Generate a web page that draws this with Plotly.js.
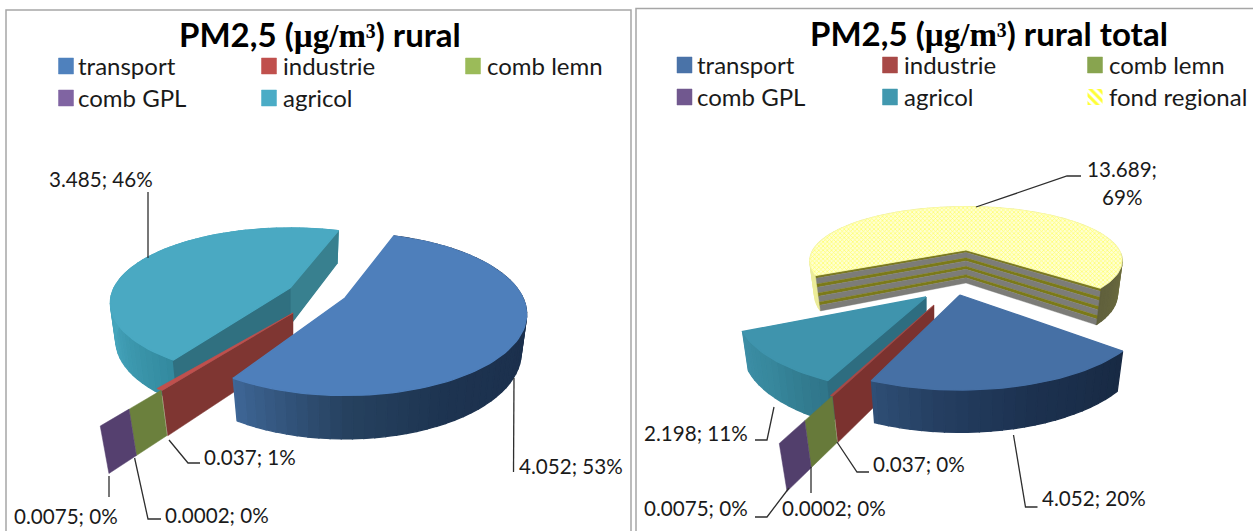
<!DOCTYPE html>
<html>
<head>
<meta charset="utf-8">
<script src="https://cdn.plot.ly/plotly-3.0.1.min.js"></script>
<style>html,body{margin:0;padding:0;background:#fff}#c{width:1253px;height:531px}</style>
</head>
<body>
<div id="c"></div>
<script>
// ---------- data ----------
const categories = ['transport', 'industrie', 'comb lemn', 'comb GPL', 'agricol', 'fond regional'];
const ruralValues = [4.052, 0.037, 0.0002, 0.0075, 3.485];
const ruralPercents = [53, 1, 0, 0, 46];
const totalValues = [4.052, 0.037, 0.0002, 0.0075, 2.198, 13.689];
const totalPercents = [20, 0, 0, 0, 11, 69];
const ruralTitle = 'rural';
const totalTitle = 'rural total';

// ---------- look ----------
const K = 0.2, FONT = 'Lato, sans-serif', TEXT = '#1a1a1a';
const traces = [];
function poly(pts, color, extra) {
  traces.push(Object.assign({
    type: 'scatter', mode: 'lines', x: pts.map(p => p[0]).concat(pts[0][0]), y: pts.map(p => p[1]).concat(pts[0][1]),
    fill: 'toself', fillcolor: color, line: {color: color, width: 1.3}, hoverinfo: 'skip', showlegend: false
  }, extra || {}));
}
function leader(pts) {
  traces.push({type: 'scatter', mode: 'lines', x: pts.map(p => p[0]), y: pts.map(p => p[1]),
    line: {color: '#2e2e2e', width: 1.3}, hoverinfo: 'skip', showlegend: false});
}
function hex(c) { return [1, 3, 5].map(i => parseInt(c.substr(i, 2), 16)); }
function ramp(stops, t) {
  if (t <= stops[0][0]) return stops[0][1];
  for (let i = 1; i < stops.length; i++) if (t <= stops[i][0]) {
    const f = (t - stops[i - 1][0]) / (stops[i][0] - stops[i - 1][0]);
    const a = hex(stops[i - 1][1]), b = hex(stops[i][1]);
    return 'rgb(' + a.map((v, j) => Math.round(v + (b[j] - v) * f)).join(',') + ')';
  }
  return stops[stops.length - 1][1];
}
function point(g, deg, r, h) {
  const a = deg * Math.PI / 180, u = Math.sin(a) * r, v = -Math.cos(a) * r;
  const s = 1 / (1 - K * v + 0.03 * h);
  return [g.ax + g.rx * u * s, g.ay + g.ry * v * s + h * (g.d || 0) * s];
}
function arc(g, a0, a1, h) {
  const n = Math.max(2, Math.ceil((a1 - a0) / 2)), out = [];
  for (let i = 0; i <= n; i++) out.push(point(g, a0 + (a1 - a0) * i / n, 1, h));
  return out;
}
function rim(g, a0, a1) {
  const step = 3;
  for (let a = a0; a < a1; a += step) {
    const b = Math.min(a + step, a1);
    poly([point(g, a, 1, 0), point(g, b, 1, 0), point(g, b, 1, 1), point(g, a, 1, 1)], ramp(g.rim, a));
  }
}
function radialWall(g, deg, color) {
  poly([[g.ax, g.ay], point(g, deg, 1, 0), point(g, deg, 1, 1), [g.ax, g.ay + g.d / 1.03]], color);
}
function wedge(g, a0, a1) {
  rim(g, a0, a1);
  (g.walls || []).forEach(w => radialWall(g, w[0] === 'start' ? a0 : a1, w[1]));
  if (g.stripes) [a1, a0].forEach(deg => stripedWall(g, deg));
  poly([[g.ax, g.ay]].concat(arc(g, a0, a1, 0)), g.top, g.topExtra);
}
function stripedWall(g, deg) {
  const top = point(g, deg, 1, 0), bot = point(g, deg, 1, 1), at = [g.ax, g.ay], ab = [g.ax, g.ay + g.d / 1.03];
  const mix = (p, q, t) => [p[0] + (q[0] - p[0]) * t, p[1] + (q[1] - p[1]) * t];
  let acc = 0;
  const total = g.stripes.reduce((s, b) => s + b[1], 0);
  g.stripes.forEach(b => {
    const t0 = acc / total, t1 = (acc + b[1]) / total; acc += b[1];
    poly([mix(at, ab, t0), mix(top, bot, t0), mix(top, bot, t1), mix(at, ab, t1)], b[0], {line: {color: b[0], width: 0.4}});
  });
}
function thin(g, deg, sweep, span, wall, top) {
  const o = Object.assign({}, g, {ax: 0, ay: 0});
  const p = point(o, deg, 1, 0), q = point(o, deg + sweep, 1, 0);
  const T = r => [g.ax + p[0] * r, g.ay + p[1] * r];
  const B = r => [g.ax + p[0] * r * (1 - g.inward), g.ay + p[1] * r + g.d0 + g.dr * r];
  poly([T(span[0]), T(span[1]), B(span[1]), B(span[0])], wall, {line: {color: wall, width: 0.5}});
  if (top) poly([[g.ax, g.ay], [g.ax + q[0] * span[1], g.ay + q[1] * span[1]], T(span[1])], top, {line: {color: top, width: 0.6}});
}
const sum = a => a.reduce((s, v) => s + v, 0);
function angles(values, start) {
  const tot = sum(values); let a = start;
  return values.map(v => { const from = a; a += v / tot * 360; return [from, a]; });
}
const annotations = [];
function label(x, y, text, anchor) {
  annotations.push({xref: 'x', yref: 'y', x: x, y: y, text: text, showarrow: false, xanchor: anchor || 'left', yanchor: 'middle',
    font: {family: FONT, size: 20.6, color: TEXT}, borderpad: 0});
}

// ---------- left chart ----------
const L = angles(ruralValues, 19);
const rRx = 178, rRy = 78;
wedge({ax: 290, ay: 288, rx: 176, ry: 72, d: 38, top: '#4aa9c2',
  rim: [[213, '#338a9f'], [250, '#45a4bb'], [300, '#46a6bd']],
  walls: [['end', '#38808f'], ['start', '#307080']]}, L[4][0], L[4][1]);
const leftThin = {ax: 293, ay: 313, rx: 182, ry: rRy, inward: 0.045, d0: 40, dr: 5};
thin(leftThin, L[1][0] + 4.5, L[1][1] - L[1][0], [0, 1.03], '#7f3632', '#c0504d');
thin(leftThin, L[2][0] + 3, 0, [1.03, 1.28], '#6b803d');
thin(leftThin, L[3][0] + 3, 0, [1.28, 1.505], '#55406f');
wedge({ax: 345, ay: 298, rx: rRx, ry: rRy, d: 39, top: '#4e7fbb',
  rim: [[100, '#1b2f4c'], [150, '#1d3350'], [178, '#26415f'], [210, '#3e6696']]}, L[0][0], L[0][1]);

// ---------- right chart ----------
const R = angles(totalValues, 130);
const tRx = 185, tRy = 76;
const hatch = {fillpattern: {shape: 'x', fgcolor: '#ffff66', bgcolor: '#ffffd2', size: 3, solidity: 0.4}, line: {color: '#ffffa8', width: 0.8}};
wedge({ax: 966, ay: 250, rx: 153, ry: 52, d: 34, top: '#ffff9e', topExtra: hatch,
  rim: [[450, '#ecec9a'], [466, '#6a6a3e'], [490, '#5f5f3c']],
  stripes: [['#7b7a20', 2], ['#7c7c78', 4.2], ['#7b7a18', 2.4], ['#7c7c78', 4.2], ['#7b7a18', 2.4], ['#7c7c78', 4.2], ['#7b7a18', 2.4], ['#7c7c78', 4.2]]},
  R[5][0], R[5][1]);
wedge({ax: 926, ay: 297, rx: tRx, ry: tRy, d: 38, top: '#3f94ad',
  rim: [[204, '#2f7488'], [225, '#37879c'], [245, '#3d8ea6']],
  walls: [['start', '#2e6d80']]}, R[4][0] + 2, R[4][1] + 2);
const rightThin = {ax: 934, ay: 305, rx: tRx, ry: tRy, inward: 0.05, d0: 43, dr: 3};
thin(rightThin, R[1][0] + 1.5, R[1][1] - R[1][0], [0, 1.08], '#7b322f', '#a84947');
thin(rightThin, R[2][0] + 1, 0, [1.08, 1.37], '#677a3a');
thin(rightThin, R[3][0] + 1, 0, [1.37, 1.64], '#523f6c');
wedge({ax: 960, ay: 295, rx: tRx, ry: tRy, d: 38, top: '#4670a5',
  rim: [[130, '#182a44'], [160, '#1c314f'], [185, '#253f62'], [204, '#305178']]}, R[0][0], R[0][1]);

// ---------- leader lines and labels ----------
function text(values, percents, i) { return values[i] + '; ' + percents[i] + '%'; }
leader([[148, 192], [148, 258]]);
leader([[514, 378], [513.5, 472]]);
leader([[169, 440], [188, 463], [200, 463]]);
leader([[134.6, 458], [148, 519], [161, 519]]);
leader([[109, 476], [109, 497]]);
label(518, 466, text(ruralValues, ruralPercents, 0));
label(203, 457, text(ruralValues, ruralPercents, 1));
label(164, 515, text(ruralValues, ruralPercents, 2));
label(13, 516, text(ruralValues, ruralPercents, 3));
label(48, 179, text(ruralValues, ruralPercents, 4));

leader([[1013.5, 435], [1025.5, 507], [1037.5, 507]]);
leader([[837, 442], [857, 472], [869, 472]]);
leader([[811, 467], [811, 493]]);
leader([[789, 488], [767, 517], [755, 517]]);
leader([[774, 407], [767, 440], [755, 440]]);
leader([[976, 207], [1067, 176], [1081, 176]]);
label(1040.5, 498, text(totalValues, totalPercents, 0));
label(872, 464, text(totalValues, totalPercents, 1));
label(781, 508, text(totalValues, totalPercents, 2));
label(643, 508, text(totalValues, totalPercents, 3));
label(643, 433, text(totalValues, totalPercents, 4));
label(1122, 169, totalValues[5] + ';', 'center');
label(1122, 197, totalPercents[5] + '%', 'center');

// ---------- legends ----------
function legend(count, columns, rows, colors, gaps) {
  for (let i = 0; i < count; i++) {
    const cx = columns[i % 3], cy = rows[Math.floor(i / 3)];
    const box = [[cx - 7.5, cy - 8], [cx + 7.5, cy - 8], [cx + 7.5, cy + 8], [cx - 7.5, cy + 8]];
    if (colors[i]) poly(box, colors[i], {line: {color: colors[i], width: 0.5}});
    else poly(box, '#ffffb0', {fillpattern: {shape: '\\', fgcolor: '#ffff33', bgcolor: '#ffffff', size: 6, solidity: 0.5}, line: {width: 0}});
    annotations.push({xref: 'x', yref: 'y', x: cx + gaps[i % 3], y: cy - 1, text: categories[i], showarrow: false, xanchor: 'left', yanchor: 'middle',
      font: {family: FONT, size: 24, color: TEXT}, borderpad: 0});
  }
}
legend(5, [66, 269, 473], [66, 98], ['#4f81bd', '#c0504d', '#9bbb59', '#8064a2', '#4bacc6'], [10.5, 12.5, 12.5]);
legend(6, [684.5, 890, 1095], [65, 97], ['#4a73a8', '#a84947', '#88a44f', '#71588f', '#4198af', null], [11, 13, 13]);

// ---------- titles ----------
function titleText(tail) {
  const serif = 'font-family:Liberation Serif,serif';
  return '<b>PM2,5 (<span style="' + serif + '">µg/m³</span>) ' + tail + '</b>';
}
annotations.push({xref: 'x', yref: 'y', x: 320, y: 34, text: titleText(ruralTitle), showarrow: false, font: {family: FONT, size: 33, color: '#000'}, borderpad: 0, borderwidth: 0});
annotations.push({xref: 'x', yref: 'y', x: 989, y: 33, text: titleText(totalTitle), showarrow: false, font: {family: FONT, size: 33, color: '#000'}, borderpad: 0, borderwidth: 0});

Plotly.newPlot('c', traces, {
  width: 1253, height: 531, margin: {l: 0, r: 0, t: 0, b: 0}, showlegend: false,
  paper_bgcolor: '#fff', plot_bgcolor: '#fff',
  xaxis: {range: [0, 1253], visible: false, fixedrange: true},
  yaxis: {range: [531, 0], visible: false, fixedrange: true},
  annotations: annotations,
  shapes: [
    {type: 'rect', xref: 'x', yref: 'y', x0: 6, y0: 10, x1: 631, y1: 540, line: {color: '#a6a6a6', width: 1.5}, layer: 'below'},
    {type: 'rect', xref: 'x', yref: 'y', x0: 636, y0: 8.5, x1: 1260, y1: 540, line: {color: '#a6a6a6', width: 1.5}, layer: 'below'}
  ]
}, {displayModeBar: false, staticPlot: true});
</script>
</body>
</html>
